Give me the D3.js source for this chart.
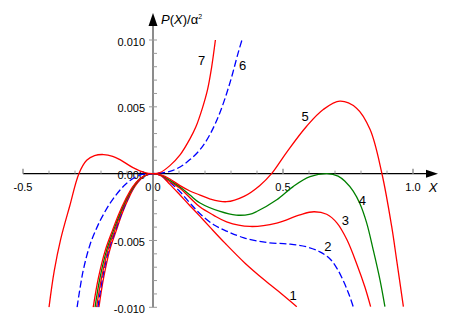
<!DOCTYPE html>
<html><head><meta charset="utf-8">
<script src="https://cdn.jsdelivr.net/npm/d3@7/dist/d3.min.js"></script>
<style>body{margin:0;background:#fff}svg{display:block}text{font-family:"Liberation Sans",Arial,sans-serif}</style>
</head><body>
<script>
// ---- data (X, P(X)/alpha^2) ----
const curve1 = [[-0.208,-0.0100],[-0.190,-0.0078],[-0.166,-0.0057],[-0.142,-0.0043],[-0.119,-0.0030],[-0.095,-0.0019],[-0.071,-0.0010],[-0.047,-0.0004],[-0.024,-0.0001],[0,0],
  [0.03,-0.00015],[0.065,-0.0008],[0.104,-0.0016],[0.142,-0.0024],[0.181,-0.0032],[0.219,-0.0040],[0.277,-0.0052],[0.354,-0.0067],[0.431,-0.0080],[0.495,-0.0090],[0.553,-0.00995]];
const curve2 = [[-0.212,-0.0100],[-0.194,-0.0078],[-0.170,-0.0057],[-0.145,-0.0043],[-0.121,-0.0030],[-0.097,-0.0019],[-0.073,-0.0010],[-0.048,-0.0004],[-0.024,-0.0001],[0,0],
  [0.03,-0.00013],[0.065,-0.00065],[0.104,-0.00135],[0.142,-0.0022],[0.181,-0.0030],[0.232,-0.0038],[0.283,-0.0043],[0.35,-0.0048],[0.437,-0.00515],[0.523,-0.00527],[0.592,-0.00548],[0.642,-0.00585],[0.681,-0.00638],[0.708,-0.0071],[0.735,-0.00815],[0.754,-0.00905],[0.77,-0.00995]];
const curve3 = [[-0.217,-0.0100],[-0.198,-0.0078],[-0.173,-0.0057],[-0.148,-0.0043],[-0.124,-0.0030],[-0.099,-0.0019],[-0.074,-0.0010],[-0.049,-0.0004],[-0.025,-0.0001],[0,0],
  [0.03,-0.00012],[0.065,-0.0006],[0.104,-0.0011],[0.142,-0.0018],[0.181,-0.0025],[0.232,-0.0031],[0.283,-0.0036],[0.373,-0.00395],[0.476,-0.0037],[0.565,-0.00308],[0.619,-0.00285],[0.668,-0.00304],[0.708,-0.0037],[0.746,-0.00495],[0.785,-0.00683],[0.815,-0.00848],[0.837,-0.00995]];
const curve4 = [[-0.223,-0.0100],[-0.204,-0.0078],[-0.178,-0.0057],[-0.153,-0.0043],[-0.127,-0.0030],[-0.102,-0.0019],[-0.076,-0.0010],[-0.051,-0.0004],[-0.025,-0.0001],[0,0],
  [0.03,-0.0001],[0.065,-0.0005],[0.104,-0.001],[0.142,-0.0016],[0.181,-0.0022],[0.258,-0.00283],[0.32,-0.0031],[0.37,-0.00305],[0.399,-0.00283],[0.476,-0.00195],[0.54,-0.00095],[0.604,-0.00023],[0.669,0],[0.712,-0.00018],[0.74,-0.0006],[0.77,-0.0013],[0.796,-0.00225],[0.822,-0.0037],[0.847,-0.0057],[0.873,-0.00795],[0.892,-0.00995]];
const curve5 = [[-0.230,-0.0100],[-0.210,-0.0078],[-0.183,-0.0057],[-0.157,-0.0043],[-0.131,-0.0030],[-0.105,-0.0019],[-0.079,-0.0010],[-0.052,-0.0004],[-0.026,-0.0001],[0,0],
  [0.03,-0.0001],[0.065,-0.0004],[0.104,-0.0009],[0.142,-0.0013],[0.181,-0.0016],[0.22,-0.0019],[0.283,-0.0021],[0.35,-0.0017],[0.41,-0.0009],[0.456,0],[0.514,0.0016],[0.591,0.00355],[0.655,0.0048],[0.719,0.00542],[0.783,0.0049],[0.835,0.0033],[0.88,0.00005],[0.918,-0.00395],[0.937,-0.00645],[0.963,-0.00995]];
const curve6 = [[-0.292,-0.0100],[-0.269,-0.0073],[-0.242,-0.0053],[-0.215,-0.0040],[-0.192,-0.0031],[-0.154,-0.0019],[-0.1,-0.0007],[-0.05,-0.0001],[0,0],
  [0.065,0.00017],[0.104,0.0005],[0.142,0.00105],[0.181,0.0018],[0.219,0.00293],[0.258,0.0046],[0.296,0.0068],[0.327,0.0090],[0.342,0.0100]];
const curve7 = [[-0.40,-0.0100],[-0.38,-0.0073],[-0.355,-0.0049],[-0.32,-0.0024],[-0.285,0],[-0.255,0.0010],[-0.225,0.00135],[-0.19,0.00143],[-0.155,0.0013],[-0.127,0.00105],[-0.077,0.00045],[-0.038,0.00012],[0,0],
  [0.027,0.00008],[0.065,0.0006],[0.104,0.0014],[0.142,0.0026],[0.165,0.0035],[0.19,0.0049],[0.21,0.0063],[0.225,0.0079],[0.24,0.0100]];
const curveNames = ["1","2","3","4","5","6","7"];
const curveColors = ["#ff0000","#0000ff","#ff0000","#008000","#ff0000","#0000ff","#ff0000"];
const curveDashed = [false,true,false,false,false,true,false];
const labelPos = [[0.539,-0.0091],[0.673,-0.0054],[0.74,-0.0035],[0.805,-0.0020],[0.585,0.0043],[0.345,0.0081],[0.187,0.0085]];
const xTickLabels = ["-0.5","0.0","0.5","1.0"];
const xTickValues = [-0.5,0,0.5,1.0];
const yTickLabels = ["-0.010","-0.005","0.000","0.005","0.010"];
const yTickValues = [-0.010,-0.005,0,0.005,0.010];

const W=451,H=327;
const svg=d3.select("body").append("svg").attr("width",W).attr("height",H);
const x=d3.scaleLinear().domain([-0.5,1.0]).range([23,413]);
const y=d3.scaleLinear().domain([-0.01,0.01]).range([307.3,40]);
const x0=x(0), y0=y(0);

// tick labels
svg.selectAll(".yl").data(yTickValues).enter().append("text")
  .attr("x",145).attr("y",d=>y(d)+5.5).attr("text-anchor","end").attr("font-size",11).attr("fill","#000")
  .text((d,i)=>yTickLabels[i]);
svg.selectAll(".xl").data(xTickValues).enter().append("text")
  .attr("x",d=>x(d)).attr("y",y0+17.5).attr("text-anchor","middle").attr("font-size",11).attr("fill","#000")
  .text((d,i)=>xTickLabels[i]);

// x axis
svg.append("line").attr("x1",x(-0.5)).attr("x2",430).attr("y1",y0).attr("y2",y0).attr("stroke","#000").attr("stroke-width",1.2);
svg.append("path").attr("d",`M426,${y0-4}L438,${y0}L426,${y0+4}Z`).attr("fill","#000");
const xMinor=d3.range(-5,11).map(i=>i/10);
const isMajX=d=>Math.abs(d*2-Math.round(d*2))<1e-9;
svg.selectAll(".xt").data(xMinor).enter().append("line")
  .attr("x1",d=>x(d)).attr("x2",d=>x(d)).attr("y1",y0).attr("y2",d=>isMajX(d)?y0-5:y0-3)
  .attr("stroke","#999").attr("stroke-width",d=>isMajX(d)?1.6:1);
// y axis
svg.append("line").attr("x1",x0).attr("x2",x0).attr("y1",24).attr("y2",y(-0.01)).attr("stroke","#8c8c8c").attr("stroke-width",2);
svg.append("path").attr("d",`M${x0-4.5},26L${x0},13L${x0+4.5},26Z`).attr("fill","#000");
const yMinor=d3.range(-10,11).map(i=>i/1000);
const isMajY=d=>Math.abs(d*200-Math.round(d*200))<1e-9;
svg.selectAll(".yt").data(yMinor).enter().append("line")
  .attr("x1",d=>isMajY(d)?x0-4:x0).attr("x2",x0+4)
  .attr("y1",d=>y(d)).attr("y2",d=>y(d)).attr("stroke","#999").attr("stroke-width",1);

// axis titles
const yt=svg.append("text").attr("x",161).attr("y",24).attr("font-size",13).attr("fill","#000");
yt.append("tspan").attr("font-style","italic").text("P");
yt.append("tspan").text("(");
yt.append("tspan").attr("font-style","italic").text("X");
yt.append("tspan").text(")/α");
yt.append("tspan").attr("font-size",7).attr("dy",-5).text("2");
svg.append("text").attr("x",433).attr("y",192).attr("text-anchor","middle").attr("font-size",13).attr("font-style","italic").text("X");

// curves
svg.append("clipPath").attr("id","clip").append("rect").attr("x",0).attr("y",y(0.01)).attr("width",W).attr("height",y(-0.01)-y(0.01));
const line=d3.line().x(d=>x(d[0])).y(d=>y(d[1])).curve(d3.curveCatmullRom.alpha(0.5));
const curves=[curve1,curve2,curve3,curve4,curve5,curve6,curve7];
const g=svg.append("g").attr("clip-path","url(#clip)");
curves.forEach((c,i)=>{
  g.append("path").attr("d",line(c)).attr("fill","none").attr("stroke",curveColors[i]).attr("stroke-width",1.3)
   .attr("stroke-dasharray",curveDashed[i]?"7,3":null);
});
// curve labels
svg.selectAll(".cl").data(labelPos).enter().append("text")
  .attr("x",d=>x(d[0])).attr("y",d=>y(d[1])+4.7).attr("text-anchor","middle").attr("font-size",13).attr("fill","#000")
  .text((d,i)=>curveNames[i]);
</script>
</body></html>
